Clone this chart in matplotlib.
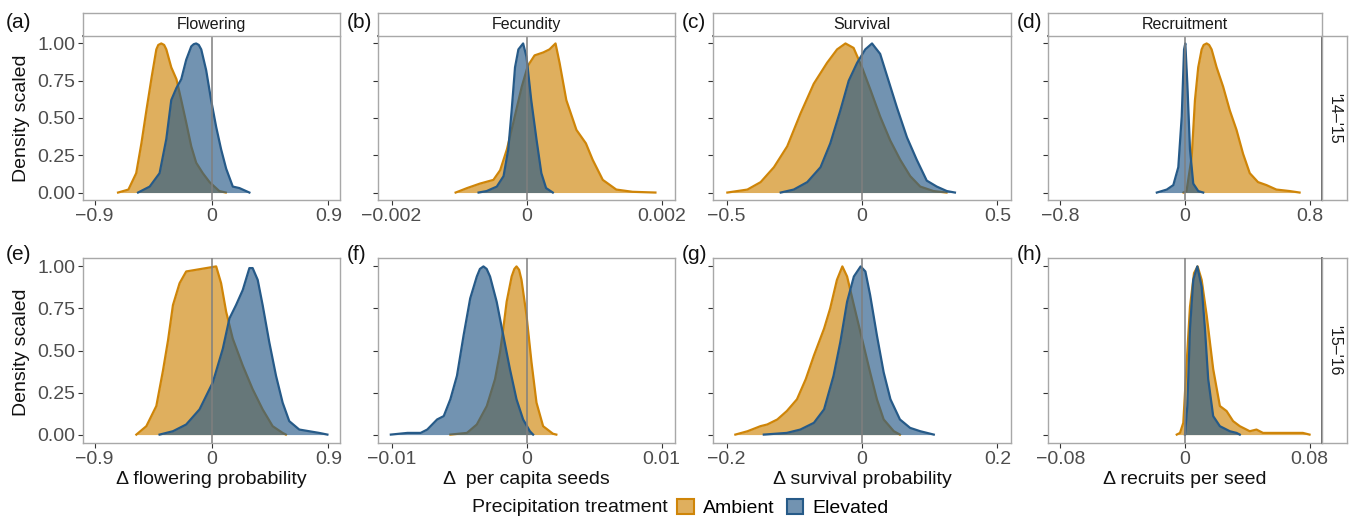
import matplotlib
matplotlib.use("Agg")
import matplotlib.pyplot as plt
from matplotlib.colors import to_rgba
from matplotlib.patches import Patch

plt.rcParams["font.family"] = ["Liberation Sans", "DejaVu Sans"]

# ---- data (density scaled to max = 1) ----
# row 1: '14-'15
flow14_amb_x = [-0.72, -0.64, -0.58, -0.54, -0.50, -0.46, -0.425, -0.41, -0.387, -0.365, -0.348,
                -0.31, -0.27, -0.233, -0.195, -0.156, -0.118, -0.067, -0.015, 0.06, 0.11]
flow14_amb_y = [0, 0.02, 0.13, 0.33, 0.56, 0.78, 0.96, 0.99, 1.0, 0.99, 0.96,
                0.84, 0.76, 0.62, 0.47, 0.31, 0.2, 0.13, 0.07, 0.01, 0]
flow14_ele_x = [-0.566, -0.476, -0.40, -0.348, -0.31, -0.271, -0.233, -0.195, -0.156, -0.137,
                -0.118, -0.098, -0.079, -0.041, -0.003, 0.036, 0.074, 0.113, 0.164, 0.215,
                0.266, 0.292]
flow14_ele_y = [0, 0.04, 0.13, 0.36, 0.62, 0.70, 0.76, 0.89, 0.98, 0.995,
                1.0, 0.99, 0.96, 0.82, 0.62, 0.44, 0.29, 0.16, 0.04, 0.03,
                0.01, 0]

fec14_amb_x = [-0.00105, -0.00088, -0.00069, -0.00049, -0.00039, -0.00029, -0.0002, -0.00007,
               0.00002, 0.00012, 0.00025, 0.00034, 0.00043, 0.00049, 0.00059, 0.00074,
               0.00088, 0.00098, 0.00113, 0.00133, 0.00157, 0.00191]
fec14_amb_y = [0, 0.03, 0.06, 0.085, 0.15, 0.29, 0.46, 0.71,
               0.85, 0.92, 0.94, 0.96, 1.0, 0.87, 0.62, 0.42,
               0.33, 0.22, 0.085, 0.02, 0.005, 0]
fec14_ele_x = [-0.00071, -0.00059, -0.00044, -0.00034, -0.00027, -0.00022, -0.00017, -0.00012,
               -0.00005, 0, 0.00007, 0.00015, 0.00022, 0.00029, 0.00039]
fec14_ele_y = [0, 0.01, 0.04, 0.11, 0.29, 0.55, 0.84, 0.96,
               1.0, 0.91, 0.62, 0.35, 0.13, 0.03, 0]

surv14_amb_x = [-0.497, -0.423, -0.374, -0.325, -0.276, -0.227, -0.178, -0.129, -0.092, -0.061,
                -0.031, 0, 0.031, 0.067, 0.104, 0.141, 0.178, 0.215, 0.264, 0.312]
surv14_amb_y = [0, 0.02, 0.07, 0.17, 0.31, 0.53, 0.73, 0.87, 0.96, 1.0,
                0.97, 0.84, 0.69, 0.51, 0.35, 0.22, 0.11, 0.04, 0.01, 0]
surv14_ele_x = [-0.30, -0.252, -0.202, -0.153, -0.117, -0.080, -0.049, -0.018, 0.012, 0.037,
                0.067, 0.098, 0.129, 0.166, 0.202, 0.239, 0.276, 0.313, 0.343]
surv14_ele_y = [0, 0.02, 0.07, 0.17, 0.33, 0.55, 0.75, 0.87, 0.96, 1.0,
                0.93, 0.75, 0.57, 0.37, 0.22, 0.08, 0.04, 0.01, 0]

recr14_amb_x = [-0.01, 0.01, 0.043, 0.064, 0.085, 0.107, 0.12, 0.139, 0.155, 0.171, 0.203,
                0.245, 0.288, 0.331, 0.373, 0.416, 0.469, 0.523, 0.587, 0.672, 0.736]
recr14_amb_y = [0, 0.01, 0.24, 0.62, 0.84, 0.96, 0.99, 1.0, 0.99, 0.96, 0.84,
                0.71, 0.55, 0.42, 0.26, 0.13, 0.07, 0.05, 0.02, 0.01, 0]
recr14_ele_x = [-0.181, -0.117, -0.075, -0.043, -0.021, -0.006, 0.002, 0.015, 0.032, 0.053, 0.085, 0.117]
recr14_ele_y = [0, 0.02, 0.05, 0.17, 0.51, 0.96, 1.0, 0.73, 0.29, 0.06, 0.01, 0]

# row 2: '15-'16
flow15_amb_x = [-0.579, -0.502, -0.425, -0.374, -0.335, -0.297, -0.246, -0.195, -0.118, -0.041,
                0.036, 0.074, 0.113, 0.164, 0.241, 0.317, 0.394, 0.471, 0.548, 0.573]
flow15_amb_y = [0, 0.05, 0.17, 0.38, 0.56, 0.77, 0.90, 0.97, 0.98, 0.99,
                1.0, 0.90, 0.73, 0.57, 0.41, 0.27, 0.15, 0.05, 0.01, 0]
flow15_ele_x = [-0.40, -0.297, -0.195, -0.092, 0.010, 0.087, 0.138, 0.189, 0.241, 0.292, 0.317,
                0.356, 0.394, 0.445, 0.497, 0.548, 0.599, 0.676, 0.752, 0.829, 0.893]
flow15_ele_y = [0, 0.02, 0.06, 0.15, 0.31, 0.51, 0.69, 0.77, 0.86, 0.99, 0.99,
                0.92, 0.77, 0.55, 0.35, 0.19, 0.08, 0.03, 0.02, 0.01, 0]

fec15_amb_x = [-0.00564, -0.00441, -0.00368, -0.00294, -0.00233, -0.00196, -0.00172, -0.00147,
               -0.0011, -0.0009, -0.00074, -0.00055, -0.00037, 0, 0.00037, 0.00074, 0.00123,
               0.00196, 0.00221]
fec15_amb_y = [0, 0.01, 0.06, 0.17, 0.33, 0.49, 0.63, 0.79,
               0.94, 0.985, 1.0, 0.98, 0.92, 0.71, 0.43, 0.19, 0.05,
               0.005, 0]
fec15_ele_x = [-0.01005, -0.00882, -0.00784, -0.00735, -0.00662, -0.00613, -0.00564, -0.00515,
               -0.00466, -0.00417, -0.00368, -0.00345, -0.00319, -0.00295, -0.0027, -0.00221,
               -0.00172, -0.00123, -0.00074, -0.00025, 0.00025, 0.00049]
fec15_ele_y = [0, 0.01, 0.01, 0.03, 0.09, 0.11, 0.21, 0.35,
               0.59, 0.81, 0.94, 0.985, 1.0, 0.985, 0.94, 0.79,
               0.59, 0.39, 0.21, 0.09, 0.02, 0]

surv15_amb_x = [-0.187, -0.169, -0.150, -0.140, -0.125, -0.111, -0.096, -0.083, -0.071, -0.056,
                -0.047, -0.037, -0.029, -0.022, -0.012, 0, 0.012, 0.022, 0.032, 0.047, 0.056]
surv15_amb_y = [0, 0.02, 0.05, 0.06, 0.09, 0.14, 0.21, 0.33, 0.47, 0.63,
                0.75, 0.92, 1.0, 0.94, 0.77, 0.57, 0.37, 0.21, 0.09, 0.02, 0]
surv15_ele_x = [-0.145, -0.111, -0.091, -0.071, -0.056, -0.042, -0.032, -0.022, -0.012, -0.002,
                0.005, 0.012, 0.022, 0.032, 0.042, 0.056, 0.071, 0.086, 0.101, 0.106]
surv15_ele_y = [0, 0.01, 0.03, 0.07, 0.15, 0.35, 0.55, 0.79, 0.94, 1.0,
                0.97, 0.83, 0.59, 0.37, 0.21, 0.09, 0.04, 0.02, 0.005, 0]

recr15_amb_x = [-0.0053, -0.0032, -0.0011, 0.0011, 0.0032, 0.0058, 0.0081, 0.0107, 0.0139,
                0.0181, 0.0224, 0.0267, 0.0309, 0.0352, 0.0416, 0.0459, 0.0501, 0.0629, 0.0757, 0.08]
recr15_amb_y = [0, 0.01, 0.07, 0.43, 0.76, 0.96, 1.0, 0.92, 0.71,
                0.39, 0.17, 0.14, 0.08, 0.05, 0.02, 0.03, 0.01, 0.01, 0.01, 0]
recr15_ele_x = [0, 0.0015, 0.0032, 0.0053, 0.0079, 0.0107, 0.0128, 0.0149, 0.0181, 0.0224,
                0.0288, 0.0331, 0.0352]
recr15_ele_y = [0, 0.17, 0.63, 0.92, 1.0, 0.88, 0.63, 0.33, 0.11, 0.05, 0.02, 0.01, 0]

vital_rates = ["Flowering", "Fecundity", "Survival", "Recruitment"]
years = ["'14\u2013'15", "'15\u2013'16"]
x_limits = [0.9, 0.002, 0.5, 0.8, 0.9, 0.01, 0.2, 0.08]
x_tick_text = [["\u22120.9", "0", "0.9"], ["\u22120.002", "0", "0.002"],
               ["\u22120.5", "0", "0.5"], ["\u22120.8", "0", "0.8"],
               ["\u22120.9", "0", "0.9"], ["\u22120.01", "0", "0.01"],
               ["\u22120.2", "0", "0.2"], ["\u22120.08", "0", "0.08"]]
x_titles = ["\u0394 flowering probability", "\u0394  per capita seeds",
            "\u0394 survival probability", "\u0394 recruits per seed"]
panel_tags = ["(a)", "(b)", "(c)", "(d)", "(e)", "(f)", "(g)", "(h)"]
y_ticks = [0, 0.25, 0.5, 0.75, 1.0]
y_tick_text = ["0.00", "0.25", "0.50", "0.75", "1.00"]

curves = [
    (flow14_amb_x, flow14_amb_y, flow14_ele_x, flow14_ele_y),
    (fec14_amb_x, fec14_amb_y, fec14_ele_x, fec14_ele_y),
    (surv14_amb_x, surv14_amb_y, surv14_ele_x, surv14_ele_y),
    (recr14_amb_x, recr14_amb_y, recr14_ele_x, recr14_ele_y),
    (flow15_amb_x, flow15_amb_y, flow15_ele_x, flow15_ele_y),
    (fec15_amb_x, fec15_amb_y, fec15_ele_x, fec15_ele_y),
    (surv15_amb_x, surv15_amb_y, surv15_ele_x, surv15_ele_y),
    (recr15_amb_x, recr15_amb_y, recr15_ele_x, recr15_ele_y),
]

AMB = "#CF8508"
ELE = "#265A88"
ALPHA = 0.65
BORDER = "#A8A8A8"
DARK = "#5A5A5A"
TICKTXT = "#4D4D4D"

W, H = 1352, 523
fig = plt.figure(figsize=(W / 100, H / 100), dpi=100)


def px_axes(l, t, r, b):
    return fig.add_axes([l / W, 1 - b / H, (r - l) / W, (b - t) / H])


cols = [(83, 340), (378, 675), (713, 1011), (1048, 1322)]
rows = [(36, 200), (258, 443)]
strip_top = 13
strip_right = 1347

for i in range(8):
    r, c = divmod(i, 4)
    l, rr = cols[c]
    t, b = rows[r]
    ax = px_axes(l, t, rr, b)
    amb_x, amb_y, ele_x, ele_y = curves[i]

    ax.fill_between(amb_x, amb_y, 0, color=AMB, alpha=ALPHA, lw=0, zorder=2)
    ax.plot(amb_x, amb_y, color=AMB, lw=1.6, zorder=2.1, solid_joinstyle="round")
    ax.fill_between(ele_x, ele_y, 0, color=ELE, alpha=ALPHA, lw=0, zorder=3)
    ax.plot(ele_x, ele_y, color=ELE, lw=1.6, zorder=3.1, solid_joinstyle="round")
    ax.axvline(0, color="#7F7F7F", lw=1.1, zorder=4)

    lim = x_limits[i]
    ax.set_xlim(-lim * 1.1, lim * 1.1)
    ax.set_ylim(-0.05, 1.05)
    ax.set_xticks([-lim, 0, lim])
    ax.set_xticklabels(x_tick_text[i])
    ax.set_yticks(y_ticks)
    if c == 0:
        ax.set_yticklabels(y_tick_text)
    else:
        ax.set_yticklabels([])
    ax.tick_params(labelsize=14, labelcolor=TICKTXT, color="#333333",
                   length=3.5, width=0.8, pad=2)
    for sp in ax.spines.values():
        sp.set_color(BORDER)
        sp.set_linewidth(1.0)
    if r == 0:
        ax.spines["top"].set_color(DARK)
        ax.spines["top"].set_linewidth(1.3)
        ax.spines["top"].set_zorder(5)
    if c == 3:
        ax.spines["right"].set_color(DARK)
        ax.spines["right"].set_linewidth(1.3)
        ax.spines["right"].set_zorder(5)

    # panel tag
    tag_x = [6, 347, 682, 1017][c]
    tag_y = [23, 255][r]
    fig.text(tag_x / W, 1 - tag_y / H, panel_tags[i], fontsize=15,
             ha="left", va="center", color="#111111")

    # top strips
    if r == 0:
        sax = px_axes(l, strip_top, rr, t)
        sax.set_xticks([])
        sax.set_yticks([])
        for sp in sax.spines.values():
            sp.set_color(BORDER)
            sp.set_linewidth(1.0)
        sax.text(0.5, 0.5, vital_rates[c], transform=sax.transAxes,
                 ha="center", va="center", fontsize=11.5, color="#1A1A1A")
    # right strips
    if c == 3:
        sax = px_axes(rr, t, strip_right, b)
        sax.set_xticks([])
        sax.set_yticks([])
        for sp in sax.spines.values():
            sp.set_color(BORDER)
            sp.set_linewidth(1.0)
        sax.text(0.5, 0.5, years[r], transform=sax.transAxes, rotation=-90,
                 ha="center", va="center", fontsize=11.5, color="#1A1A1A")
    # x titles
    if r == 1:
        fig.text((l + rr) / 2 / W, 1 - 479 / H, x_titles[c], fontsize=14,
                 ha="center", va="center", color="#111111")

for yc in [118, 352]:
    fig.text(22 / W, 1 - yc / H, "Density scaled", rotation=90, fontsize=14,
             ha="center", va="center", color="#111111")

# legend
fig.text(472 / W, 1 - 508 / H, "Precipitation treatment", fontsize=14,
         ha="left", va="center", color="#111111")
handles = [Patch(facecolor=to_rgba(AMB, ALPHA), edgecolor=AMB, lw=1.5, label="Ambient"),
           Patch(facecolor=to_rgba(ELE, ALPHA), edgecolor=ELE, lw=1.5, label="Elevated")]
fig.legend(handles=handles, loc="center left", bbox_to_anchor=(677 / W, 1 - 508 / H),
           ncol=2, frameon=False, fontsize=14, handlelength=0.85, handleheight=0.85,
           handletextpad=0.5, columnspacing=0.6, borderpad=0, borderaxespad=0)

fig.savefig("out.png", dpi=100)
